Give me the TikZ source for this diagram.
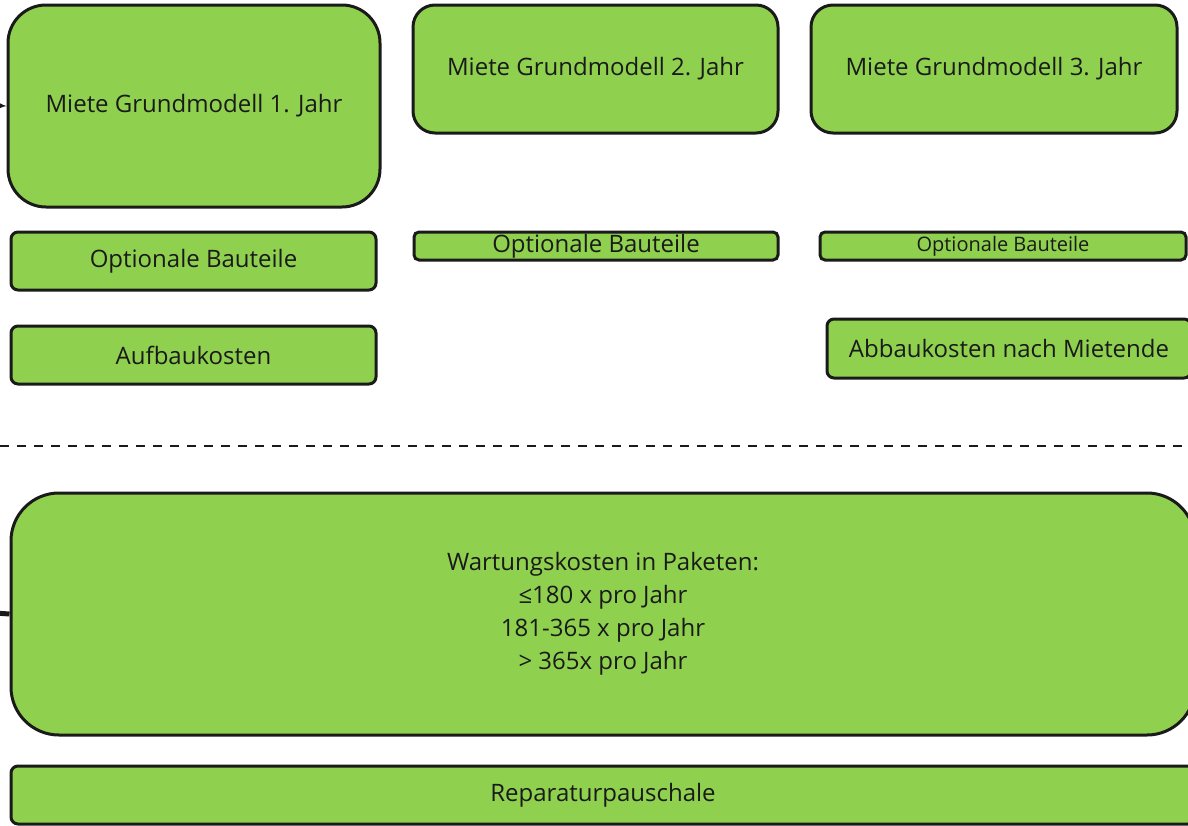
\documentclass[tikz,border=0pt]{standalone}
\usepackage{fontspec}
\setmainfont{Open Sans}
\usetikzlibrary{positioning, arrows}

\definecolor{boxgreen}{HTML}{8FD14F}
\definecolor{ink}{HTML}{1A1A1A}

\begin{document}
\begin{tikzpicture}[x=1pt,y=-1pt]
	\tikzstyle{every node}=[font=\fontsize{24}{33}\selectfont, text=ink]
	\tikzstyle{kasten}=[draw=ink, line width=3pt, fill=boxgreen, inner sep=0pt, align=center]
	\useasboundingbox (0,0) rectangle (1188,825);

	\node[kasten, rounded corners=38pt, minimum width=372pt, minimum height=202pt] (jahr1) at (194,106) {Miete Grundmodell 1. Jahr};
	\node[kasten, rounded corners=22pt, minimum width=365pt, minimum height=128pt] (jahr2) at (595.5,69) {Miete Grundmodell 2. Jahr};
	\node[kasten, rounded corners=22pt, minimum width=366pt, minimum height=128pt] (jahr3) at (994,69) {Miete Grundmodell 3. Jahr};

	\node[kasten, rounded corners=7pt, minimum width=365pt, minimum height=58pt] (opt1) at (193.5,261) {Optionale Bauteile};
	\node[kasten, rounded corners=5pt, minimum width=364pt, minimum height=28pt] (opt2) at (596,246) {Optionale Bauteile};
	\node[kasten, rounded corners=5pt, minimum width=366pt, minimum height=28pt, font=\fontsize{20}{22}\selectfont] (opt3) at (1003,246) {Optionale Bauteile};

	\node[kasten, rounded corners=7pt, minimum width=365pt, minimum height=58pt] (aufbau) at (193.5,355) {Aufbaukosten};
	\node[kasten, rounded corners=7pt, minimum width=364pt, minimum height=59pt] (abbau) at (1009,348.5) {Abbaukosten nach Mietende};

	\draw[ink, line width=2pt, dash pattern=on 9pt off 8pt] (0,446) -- (1188,446);

	\node[kasten, rounded corners=48pt, minimum width=1184pt, minimum height=242pt] (wartung) at (603,614)
		{Wartungskosten in Paketen:\\≤180 x pro Jahr\\181-365 x pro Jahr\\> 365x pro Jahr};
	\node[kasten, rounded corners=7pt, minimum width=1184pt, minimum height=58pt] (reparatur) at (603,795) {Reparaturpauschale};

	% Zulaeufe von links
	\coordinate (zu1) at (-20,105);
	\coordinate (zu2) at (-20,612);
	\draw[ink, line width=1.5pt, -latex] (zu1) -- (jahr1.west);
	\draw[ink, line width=5pt] (zu2) -- (wartung.west);
\end{tikzpicture}
\end{document}
